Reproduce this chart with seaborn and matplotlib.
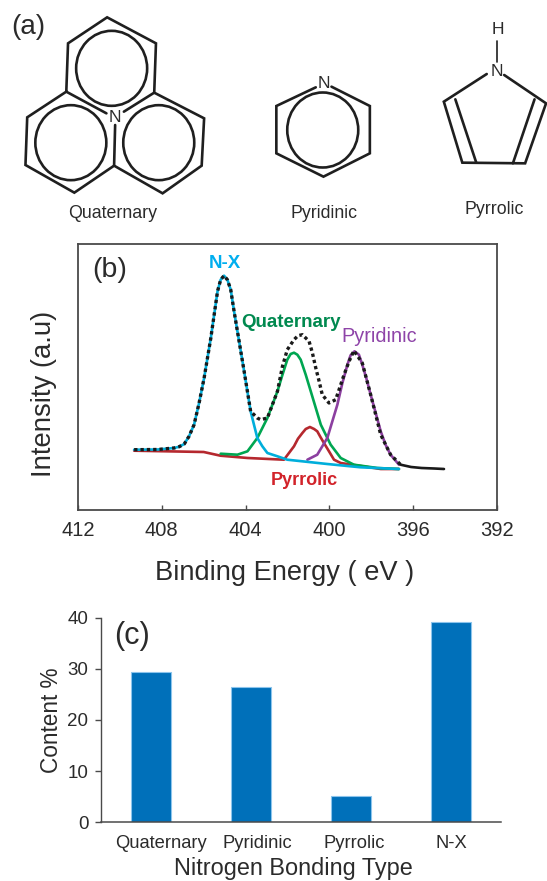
import matplotlib
matplotlib.use('Agg')
import matplotlib.pyplot as plt
from matplotlib.patches import Ellipse
from matplotlib.transforms import ScaledTranslation
import seaborn as sns

W, H = 547, 881

# panel (b) XPS fit
nx_ev = [409.32, 408.2, 407.41, 407.17, 406.93, 406.70, 406.46, 406.22, 405.98, 405.66, 405.50, 405.34, 405.19,
         405.03, 404.87, 404.71, 404.55, 404.39, 404.23, 404.07, 403.76, 403.6, 403.44, 403.2, 402.96, 402.48,
         402.01, 400.10, 398.51, 396.68]
nx_int = [60.3, 60.5, 62, 63.3, 66, 73.7, 85.3, 107, 132, 172, 195.3, 218.7, 230.3,
          234.3, 230.3, 220.3, 198.7, 178.7, 158.7, 138.7, 98.7, 85.3, 72, 63.7, 57, 53.7,
          50.3, 46, 42.7, 41]
quat_ev = [405.19, 404.39, 403.91, 403.44, 402.96, 402.72, 402.48, 402.24, 402.01, 401.85, 401.69, 401.53, 401.37,
           401.13, 400.89, 400.65, 400.41, 399.94, 399.46, 398.83, 397.71, 396.68]
quat_int = [56.3, 55.3, 58.7, 72, 92, 105.3, 118.7, 135.3, 150.3, 156, 157.3, 155.3, 150.3,
            135.3, 118.7, 102, 85.3, 65.3, 52, 45.3, 42, 41]
pyrrol_ev = [409.32, 406.0, 405.2, 403.9, 402.17, 401.69, 401.5, 401.29, 401.13, 400.93, 400.73, 400.58, 400.42,
             400.26, 400.02, 399.78, 399.46, 397.55, 396.68]
pyrrol_int = [59.3, 58, 54.3, 52, 50.3, 63.7, 71.3, 77, 81, 83, 81, 78.7, 72.7,
              67, 58.7, 50.3, 47, 41, 41]
pyrid_ev = [401.05, 400.58, 400.10, 399.62, 399.38, 399.14, 398.99, 398.80, 398.59, 398.43, 398.24, 398.03, 397.79,
            397.55, 397.32, 397.08, 396.68]
pyrid_int = [50.3, 55.3, 72, 105.3, 127, 145.3, 154.7, 158.7, 155.3, 145.3, 132, 115.3, 97,
             78.7, 65.3, 55.3, 45.3]
total_ev = [409.32, 408.2, 407.41, 407.17, 406.93, 406.70, 406.46, 406.22, 405.98, 405.66, 405.50, 405.34, 405.19,
            405.03, 404.87, 404.71, 404.55, 404.39, 404.23, 404.07, 403.76, 403.44, 403.28, 402.96, 402.48, 402.24,
            402.01, 401.69, 401.5, 401.29, 400.97, 400.81, 400.65, 400.49, 400.34, 400.02, 399.70, 399.30, 399.06,
            398.83, 398.43, 398.03, 397.55, 397.08, 396.60]
total_int = [60.3, 60.5, 62, 63.3, 66, 73.7, 85.3, 107, 132, 172, 195.3, 218.7, 230.3,
             234.3, 230.3, 220.3, 198.7, 178.7, 158.7, 138.7, 98.7, 92, 90.3, 92, 118.7, 143.7,
             160.3, 170.3, 174.3, 175.3, 168.7, 157, 142, 128.7, 115.3, 107, 110.3, 135.3, 148.7,
             159.3, 147, 115.3, 75.3, 55.3, 45.3]
tail_ev = [396.60, 396.1, 395.6, 395.0, 394.53]
tail_int = [45.3, 43, 42, 41.5, 41]
xps_ticks = [412, 408, 404, 400, 396, 392]

# panel (c)
bond_types = ['Quaternary', 'Pyridinic', 'Pyrrolic', 'N-X']
content = [29.3, 26.4, 5.2, 39.2]
content_ticks = [0, 10, 20, 30, 40]

sns.set_style('white')
plt.rcParams['font.family'] = ['Liberation Sans', 'DejaVu Sans']
TXT = '#2b2b2b'
AX = '#4a4a4a'

fig = plt.figure(figsize=(W / 100, H / 100), dpi=100)


def axes_px(left, top, right, bottom):
    return fig.add_axes([left / W, 1 - bottom / H, (right - left) / W, (bottom - top) / H])


# panel (b)
ax = axes_px(78, 244, 497, 510)
sns.lineplot(x=pyrrol_ev, y=pyrrol_int, color='#B5282E', lw=1.9, ax=ax, estimator=None, sort=False)
sns.lineplot(x=quat_ev, y=quat_int, color='#00A651', lw=1.9, ax=ax, estimator=None, sort=False)
sns.lineplot(x=pyrid_ev, y=pyrid_int, color='#8C3FA0', lw=1.9, ax=ax, estimator=None, sort=False)
sns.lineplot(x=nx_ev, y=nx_int, color='#00AEDB', lw=1.9, ax=ax, estimator=None, sort=False)
sns.lineplot(x=tail_ev, y=tail_int, color='#1a1a1a', lw=1.9, ax=ax, estimator=None, sort=False)
ax.plot(total_ev, total_int, color='#1a1a1a', lw=2.4, dashes=(1, 0.9), zorder=5)
ax.set_xlim(412, 392)
ax.set_ylim(0, 266)
ax.set_xticks(xps_ticks)
ax.set_yticks([])
ax.tick_params(axis='x', direction='in', length=3.5, width=1, color=AX, labelsize=14.5,
               labelcolor=TXT, pad=8, bottom=True)
ax.set_xlabel('Binding Energy ( eV )', fontsize=19.6, color=TXT, labelpad=14, x=0.492)
ax.set_ylabel('Intensity (a.u)', fontsize=19.8, color=TXT, labelpad=15, y=0.436)
for s in ax.spines.values():
    s.set_color(AX)
    s.set_linewidth(1.3)
ax.text(405.0, 247, 'N-X', color='#00AEEF', fontsize=13.5, ha='center', va='center', fontweight='bold')
ax.text(401.85, 188, 'Quaternary', color='#00894F', fontsize=13.5, ha='center', va='center', fontweight='bold')
ax.text(397.6, 174, 'Pyridinic', color='#8E44A8', fontsize=14.3, ha='center', va='center')
ax.text(401.19, 30, 'Pyrrolic', color='#D2232A', fontsize=13, ha='center', va='center', fontweight='bold')
ax.text(411.33, 240, '(b)', color=TXT, fontsize=20.5, ha='left', va='center')

# panel (c)
ax2 = axes_px(101, 617.7, 501, 822.3)
sns.barplot(x=bond_types, y=content, color='#0070BA', width=0.4, saturation=1,
            edgecolor='#8CC4EC', linewidth=0.8, ax=ax2)
ax2.set_ylim(0, 40)
ax2.set_yticks(content_ticks)
ax2.tick_params(axis='y', direction='out', left=True, length=4, width=1, color=AX,
                labelsize=13.5, labelcolor=TXT, pad=5)
ax2.tick_params(axis='x', length=0, labelsize=13.2, labelcolor=TXT, pad=9)
for lab, dx in zip(ax2.get_xticklabels(), [0.095, 0.06, 0.035, 0]):
    lab.set_transform(lab.get_transform() + ScaledTranslation(dx, 0, fig.dpi_scale_trans))
ax2.set_xlabel('Nitrogen Bonding Type', fontsize=16.9, color=TXT, labelpad=4, x=0.48)
ax2.set_ylabel('Content %', fontsize=16.3, color=TXT, labelpad=3)
sns.despine(ax=ax2)
ax2.spines['left'].set_color(AX)
ax2.spines['bottom'].set_color(AX)
ax2.spines['left'].set_linewidth(1)
ax2.spines['bottom'].set_linewidth(1.1)
ax2.text(-0.37, 36.4, '(c)', color=TXT, fontsize=22, ha='left', va='center')

# panel (a): structure sketches on a pixel overlay
SX, SY = 2.866, 3
ov = fig.add_axes([0, 0, 1, 1])
ov.set_xlim(0, W)
ov.set_ylim(H, 0)
ov.axis('off')
ov.patch.set_alpha(0)

quat_lines = [
    [(190, 275), (195, 130), (307, 52), (447, 130), (442, 278), (585, 355), (578, 497), (466, 580), (327, 497),
     (213, 578), (73, 495), (78, 352), (190, 275), (305, 340)],
    [(442, 278), (355, 335)],
    [(327, 497), (330, 375)],
]
pyridine_lines = [[(905, 262), (792, 318), (792, 460), (927, 530), (1060, 460), (1060, 318), (950, 260)]]
pyrrole_lines = [
    [(1395, 222), (1272, 305), (1325, 488), (1505, 490), (1565, 310), (1445, 225)],
    [(1305, 298), (1365, 488)],
    [(1532, 298), (1470, 490)],
]
rings = [(320, 205), (203, 428), (455, 428), (925, 390)]
for line in quat_lines + pyridine_lines + pyrrole_lines:
    ov.plot([p[0] / SX for p in line], [p[1] / SY for p in line], color='#1f1f1f', lw=1.9, solid_joinstyle='miter')
ov.plot([1425 / SX, 1425 / SX], [122 / SY, 185 / SY], color='#1f1f1f', lw=1.2)
for cx, cy in rings:
    ov.add_patch(Ellipse((cx / SX, cy / SY), 71, 75, fill=False, ec='#1f1f1f', lw=1.9))
for x, y, s in [(115, 117, 'N'), (323.5, 83.5, 'N'), (496.5, 72, 'N'), (498, 30, 'H')]:
    ov.text(x, y, s, fontsize=12.5, color=TXT, ha='center', va='center')
for x, y, s in [(113, 213, 'Quaternary'), (324.5, 214, 'Pyridinic'), (494, 209, 'Pyrrolic')]:
    ov.text(x, y, s, fontsize=12.8, color=TXT, ha='center', va='center')
ov.text(11, 27, '(a)', fontsize=20, color=TXT, ha='left', va='center')

fig.savefig('out.png', dpi=100)
plt.close(fig)
